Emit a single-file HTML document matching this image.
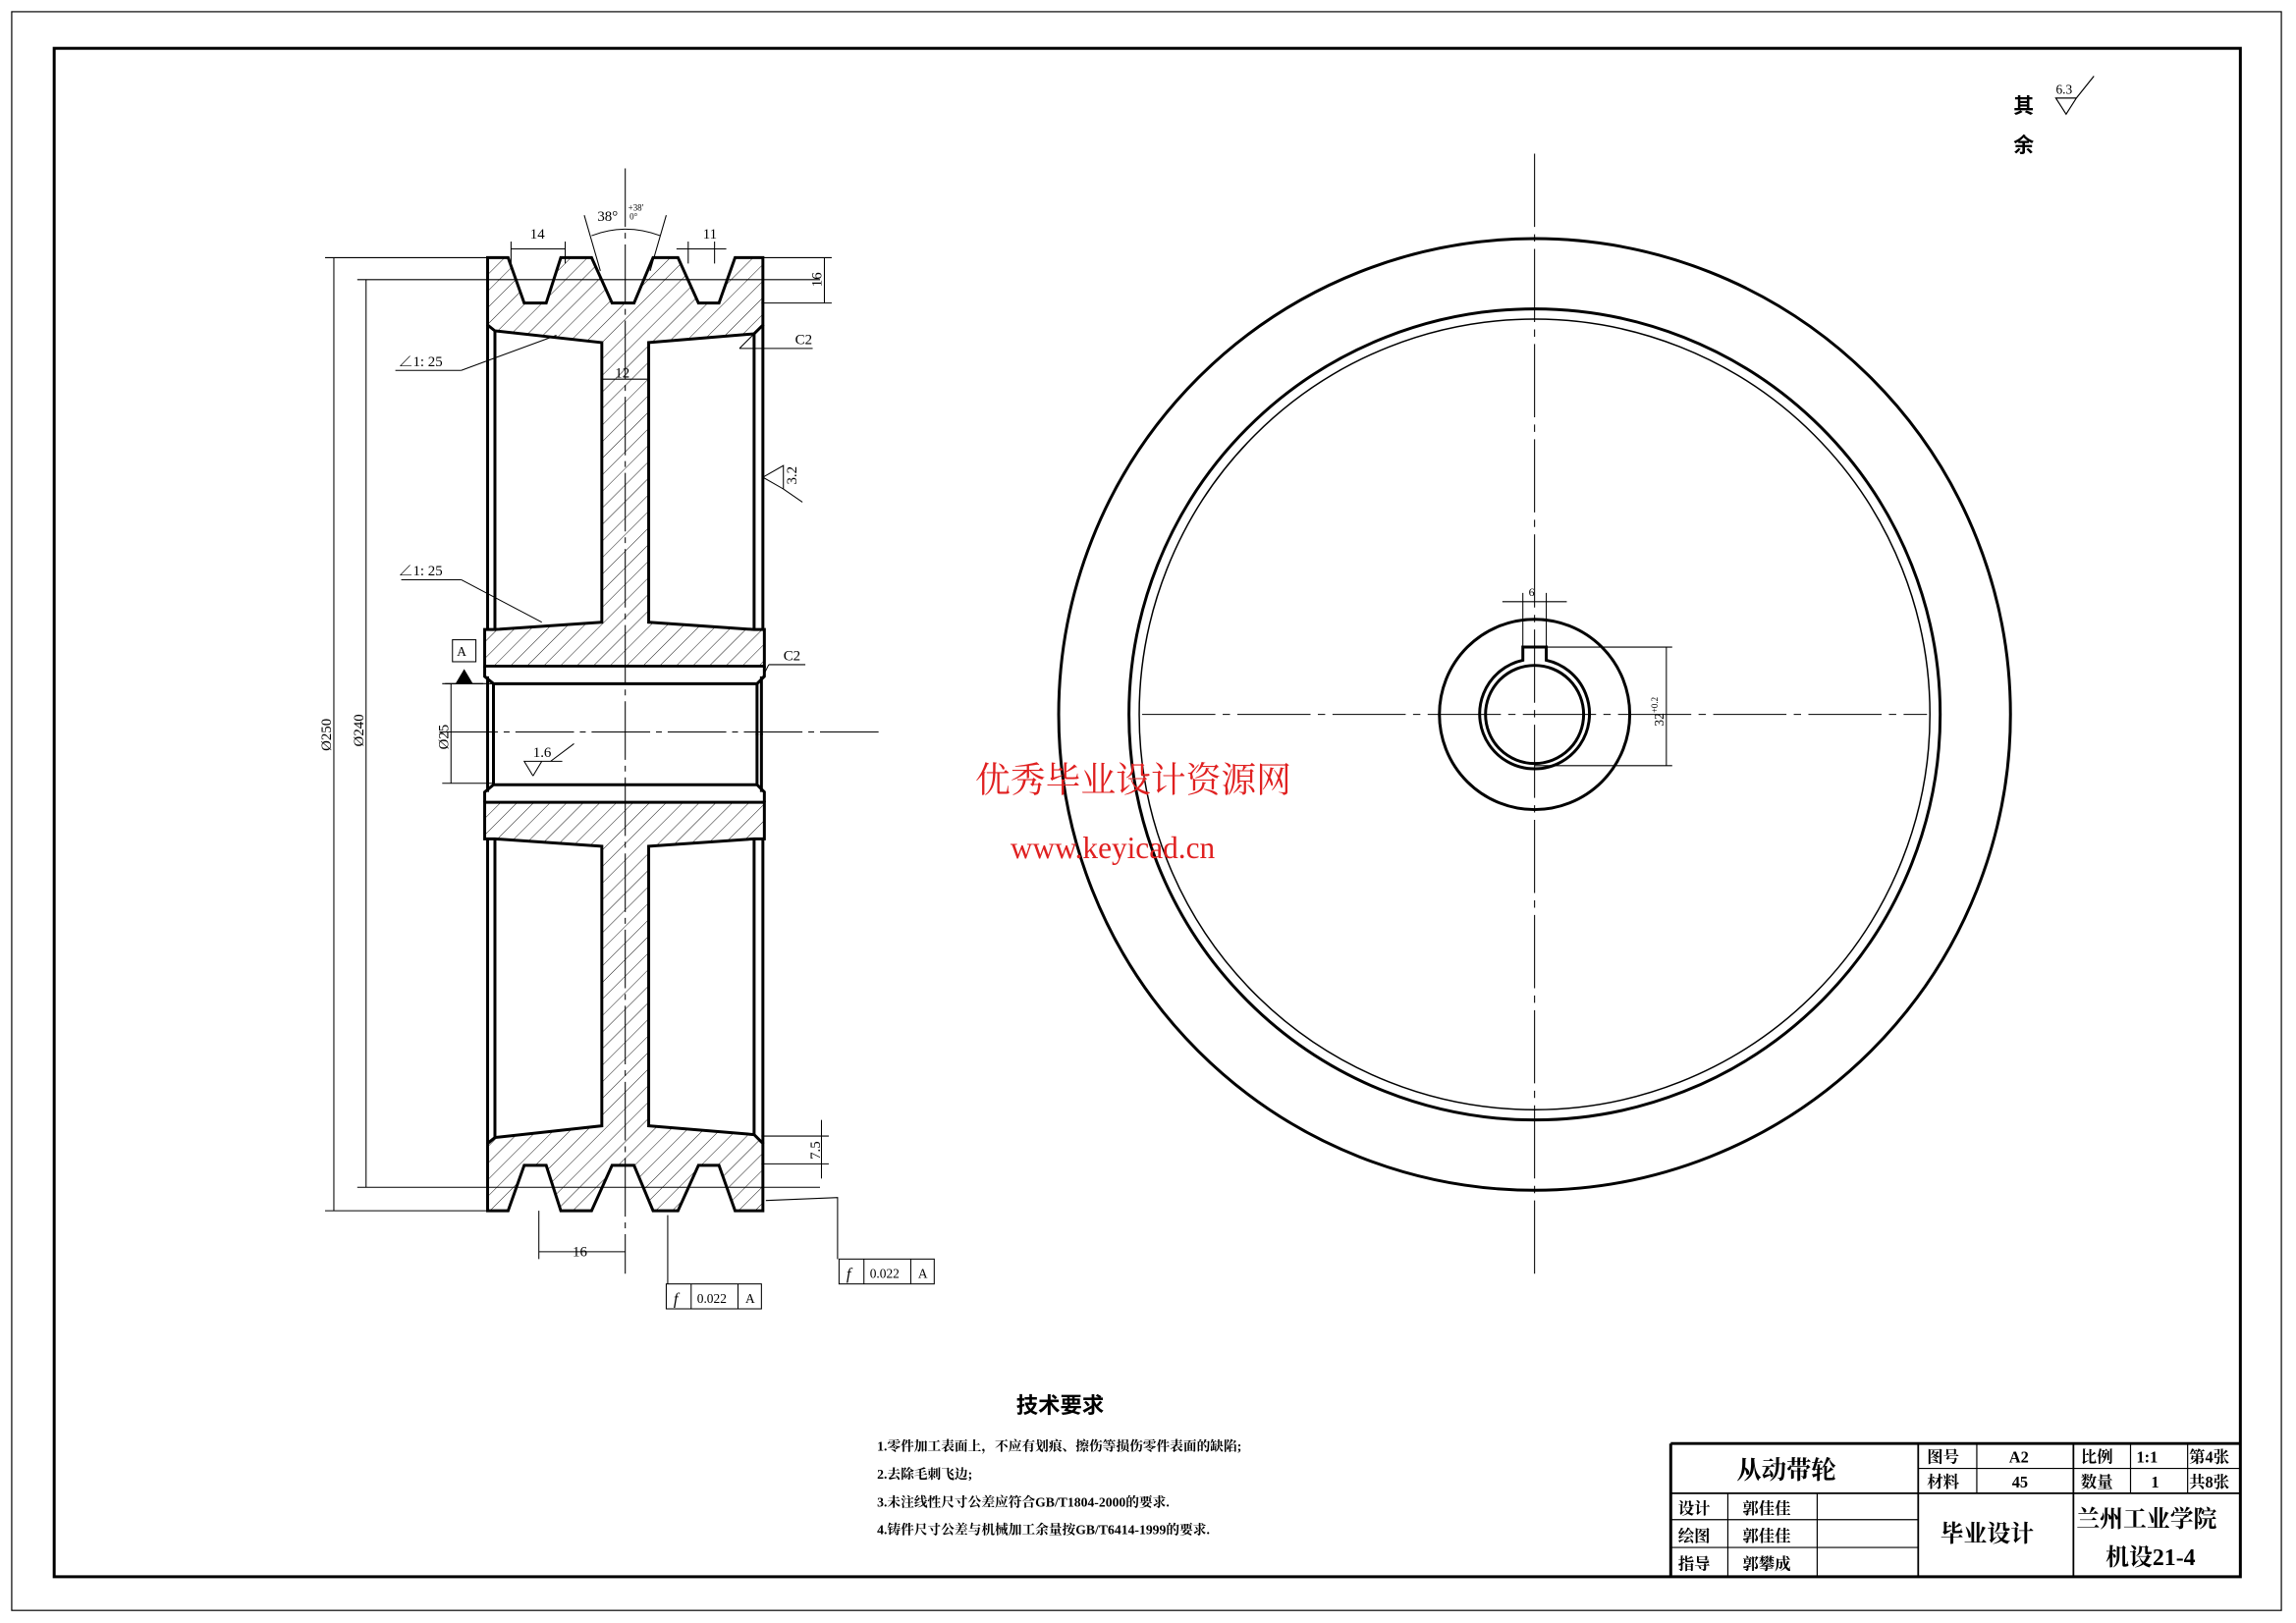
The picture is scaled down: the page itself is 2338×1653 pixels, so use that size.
<!DOCTYPE html>
<html><head><meta charset="utf-8"><style>
html,body{margin:0;padding:0;background:#fff;}
svg{display:block;}
text{font-family:"Liberation Serif","Noto Serif CJK SC","Noto Sans CJK SC",serif;fill:#000;}
.c{font-family:"Noto Sans CJK SC","WenQuanYi Zen Hei",sans-serif;font-weight:bold;}
</style></head><body>
<svg width="2338" height="1653" viewBox="0 0 1568 1108.6" preserveAspectRatio="none" xmlns="http://www.w3.org/2000/svg">
<defs>
<pattern id="h" patternUnits="userSpaceOnUse" width="8" height="8" patternTransform="rotate(45)">
<line x1="0" y1="0" x2="0" y2="8" stroke="#000" stroke-width="0.6"/>
</pattern>
<pattern id="h2" patternUnits="userSpaceOnUse" width="8" height="8" patternTransform="rotate(-45)">
<line x1="0" y1="0" x2="0" y2="8" stroke="#000" stroke-width="0.6"/>
</pattern>
<g id="half">
<path d="M333,176 L347,176 L358,207 L373,207 L383,176 L404,176 L418,207 L433,207 L446,176 L463,176 L477,207 L491,207 L502,176 L521,176 L521,222 L515,228 L443,234 L443,425 L515,430 L522,430 L522,455 L331,455 L331,430 L338,430 L411,425 L411,234 L338,226 L333,222 Z" stroke="#000" stroke-width="2"/>
<path d="M333,222 L333,430 M338,226 L338,430 M521,222 L521,430 M515,228 L515,430" stroke="#000" stroke-width="2" fill="none"/>
<path d="M331,455 L331,462 L337,467 L517,467 L522,462 L522,455 M337,467 L337,502 M517,467 L517,502 M333,462 L333,502 M520,462 L520,502" stroke="#000" stroke-width="2" fill="none"/>
</g>
</defs>
<rect x="8" y="8" width="1550" height="1092" fill="none" stroke="#000" stroke-width="0.8"/>
<rect x="37" y="33" width="1493" height="1044" fill="none" stroke="#000" stroke-width="2"/>

<!-- section view -->
<use href="#half" fill="url(#h)"/>
<use href="#half" fill="url(#h2)" transform="translate(0,1003) scale(1,-1)"/>
<g stroke="#000" stroke-width="0.7" fill="none">
<line x1="427" y1="115" x2="427" y2="870" stroke-dasharray="40,4,4,4"/>
<line x1="300" y1="500" x2="600" y2="500" stroke-dasharray="40,4,4,4"/>
<line x1="222" y1="176" x2="333" y2="176"/><line x1="222" y1="827" x2="333" y2="827"/>
<line x1="228" y1="176" x2="228" y2="827"/>
<line x1="244" y1="191" x2="560" y2="191"/><line x1="244" y1="811" x2="560" y2="811"/>
<line x1="250" y1="191" x2="250" y2="811"/>
<line x1="302" y1="467" x2="337" y2="467"/><line x1="302" y1="535" x2="337" y2="535"/>
<line x1="308" y1="467" x2="308" y2="535"/>
<line x1="520" y1="176" x2="568" y2="176"/><line x1="520" y1="207" x2="568" y2="207"/>
<line x1="563" y1="176" x2="563" y2="207"/>
<line x1="520" y1="776" x2="566" y2="776"/><line x1="520" y1="795" x2="566" y2="795"/>
<line x1="561" y1="765" x2="561" y2="805"/>
<line x1="349" y1="165" x2="349" y2="180"/><line x1="386" y1="165" x2="386" y2="180"/><line x1="349" y1="170" x2="386" y2="170"/>
<line x1="470" y1="165" x2="470" y2="180"/><line x1="488" y1="165" x2="488" y2="180"/><line x1="462" y1="170" x2="496" y2="170"/>
<path d="M404,161 Q427,152 451,161"/><line x1="399" y1="147" x2="410" y2="185"/><line x1="455" y1="147" x2="444" y2="185"/>
<line x1="411" y1="259" x2="443" y2="259"/>
<line x1="270" y1="253" x2="315" y2="253"/><line x1="315" y1="253" x2="380" y2="229"/>
<line x1="274" y1="396" x2="315" y2="396"/><line x1="315" y1="396" x2="370" y2="425"/>
<line x1="505" y1="238" x2="555" y2="238"/><line x1="505" y1="238" x2="515" y2="228"/>
<line x1="525" y1="454" x2="550" y2="454"/><line x1="520" y1="464" x2="525" y2="454"/>
<path d="M521,326 L535,318 L535,334 Z M535,334 L548,343"/>
<path d="M364,530 L370,520 L376,520 M364,530 L358,520 L384,520 M376,520 L392,508"/>
<line x1="368" y1="827" x2="368" y2="860"/><line x1="368" y1="855" x2="427" y2="855"/>
<line x1="456" y1="830" x2="456" y2="877"/>
<path d="M523,820 L572,818 L572,860"/>
<rect x="455" y="877" width="65" height="17"/><line x1="472" y1="877" x2="472" y2="894"/><line x1="504" y1="877" x2="504" y2="894"/>
<rect x="573" y="860" width="65" height="17"/><line x1="590" y1="860" x2="590" y2="877"/><line x1="622" y1="860" x2="622" y2="877"/>
<rect x="309" y="437" width="16" height="15"/>
<line x1="304" y1="467" x2="330" y2="467"/>
</g>
<path d="M317,457 L311,467 L323,467 Z" fill="#000"/>
<g font-size="10">
<text x="362" y="163">14</text><text x="408" y="151">38°</text>
<text x="429" y="144" font-size="6">+38'</text><text x="430" y="150" font-size="6">0°</text>
<text x="480" y="163">11</text><text x="420" y="258">12</text>
<text x="543" y="235">C2</text><text x="535" y="451">C2</text>
<text x="272" y="250">∠1: 25</text><text x="272" y="393">∠1: 25</text>
<text x="364" y="517">1.6</text><text x="391" y="858">16</text>
<text x="312" y="448" font-size="9">A</text>
<text x="476" y="890" font-size="9">0.022</text><text x="509" y="890" font-size="9">A</text><text x="460" y="891" font-size="11" font-style="italic">f</text>
<text x="594" y="873" font-size="9">0.022</text><text x="627" y="873" font-size="9">A</text><text x="578" y="874" font-size="11" font-style="italic">f</text>
<text transform="translate(226,513) rotate(-90)">Ø250</text>
<text transform="translate(248,510) rotate(-90)">Ø240</text>
<text transform="translate(306,512) rotate(-90)">Ø25</text>
<text transform="translate(561,196) rotate(-90)">16</text>
<text transform="translate(560,792) rotate(-90)">7.5</text>
<text transform="translate(544,331) rotate(-90)">3.2</text>
</g>

<!-- front view -->
<g stroke="#000" fill="none">
<circle cx="1048" cy="488" r="325" stroke-width="2"/>
<circle cx="1048" cy="488" r="277" stroke-width="2"/>
<circle cx="1048" cy="488" r="270" stroke-width="1"/>
<circle cx="1048" cy="488" r="65" stroke-width="2"/>
<path d="M1040,451 A37.5,37.5 0 1 0 1056,451 L1056,442 L1040,442 Z" stroke-width="2"/>
<circle cx="1048" cy="488" r="33.5" stroke-width="2"/>
<g stroke-width="0.7">
<line x1="780" y1="488" x2="1316" y2="488" stroke-dasharray="50,5,5,5"/>
<line x1="1048" y1="105" x2="1048" y2="870" stroke-dasharray="50,5,5,5"/>
<line x1="1040" y1="405" x2="1040" y2="442"/><line x1="1056" y1="405" x2="1056" y2="442"/>
<line x1="1026" y1="411" x2="1070" y2="411"/>
<line x1="1056" y1="442" x2="1142" y2="442"/><line x1="1048" y1="523" x2="1142" y2="523"/>
<line x1="1138" y1="442" x2="1138" y2="523"/>
</g>
</g>
<text x="1044" y="407" font-size="8">6</text>
<text transform="translate(1136,496) rotate(-90)" font-size="9">32<tspan font-size="6" dy="-4">+0.2</tspan></text>

<!-- roughness note -->
<text x="1375" y="77" font-size="14" class="c">其</text><text x="1375" y="104" font-size="14" class="c">余</text>
<path d="M1404,67 L1411,78 L1418,67 Z M1418,67 L1430,52 M1404,67 L1418,67" stroke="#000" stroke-width="0.8" fill="none"/>
<text x="1404" y="64" font-size="9">6.3</text>

<!-- watermark -->
<text x="666" y="541" font-size="24" style="fill:#e02020;font-family:'Noto Serif CJK SC','Noto Sans CJK SC',serif">优秀毕业设计资源网</text>
<text x="690" y="586" font-size="21" style="fill:#e02020">www.keyicad.cn</text>

<!-- tech requirements -->
<text x="694" y="965" font-size="15" class="c">技术要求</text>
<g font-size="9.2" class="c">
<text x="599" y="991">1.零件加工表面上，不应有划痕、擦伤等损伤零件表面的缺陷;</text>
<text x="599" y="1010">2.去除毛刺飞边;</text>
<text x="599" y="1029">3.未注线性尺寸公差应符合GB/T1804-2000的要求.</text>
<text x="599" y="1048">4.铸件尺寸公差与机械加工余量按GB/T6414-1999的要求.</text>
</g>

<!-- title block -->
<g stroke="#000" fill="none">
<path d="M1141,986 L1530,986 M1141,986 L1141,1077" stroke-width="2"/>
<path d="M1310,986 L1310,1077 M1416,986 L1416,1077 M1141,1020 L1530,1020" stroke-width="1.2"/>
<path d="M1350,986 L1350,1020 M1455,986 L1455,1020 M1494,986 L1494,1020 M1310,1003 L1530,1003 M1180,1020 L1180,1077 M1241,1020 L1241,1077 M1141,1038 L1310,1038 M1141,1057 L1310,1057" stroke-width="0.8"/>
</g>
<g class="c">
<text x="1186" y="1010" font-size="17">从动带轮</text>
<text x="1316" y="999" font-size="11">图号</text><text x="1372" y="999" font-size="11">A2</text>
<text x="1316" y="1016" font-size="11">材料</text><text x="1374" y="1016" font-size="11">45</text>
<text x="1421" y="999" font-size="11">比例</text><text x="1459" y="999" font-size="11">1:1</text><text x="1495" y="999" font-size="11">第4张</text>
<text x="1421" y="1016" font-size="11">数量</text><text x="1469" y="1016" font-size="11">1</text><text x="1495" y="1016" font-size="11">共8张</text>
<text x="1146" y="1034" font-size="11">设计</text><text x="1190" y="1034" font-size="11">郭佳佳</text>
<text x="1146" y="1053" font-size="11">绘图</text><text x="1190" y="1053" font-size="11">郭佳佳</text>
<text x="1146" y="1072" font-size="11">指导</text><text x="1190" y="1072" font-size="11">郭攀成</text>
<text x="1325" y="1053" font-size="16">毕业设计</text>
<text x="1418" y="1043" font-size="16">兰州工业学院</text>
<text x="1438" y="1069" font-size="16">机设21-4</text>
</g>
</svg>
</body></html>
